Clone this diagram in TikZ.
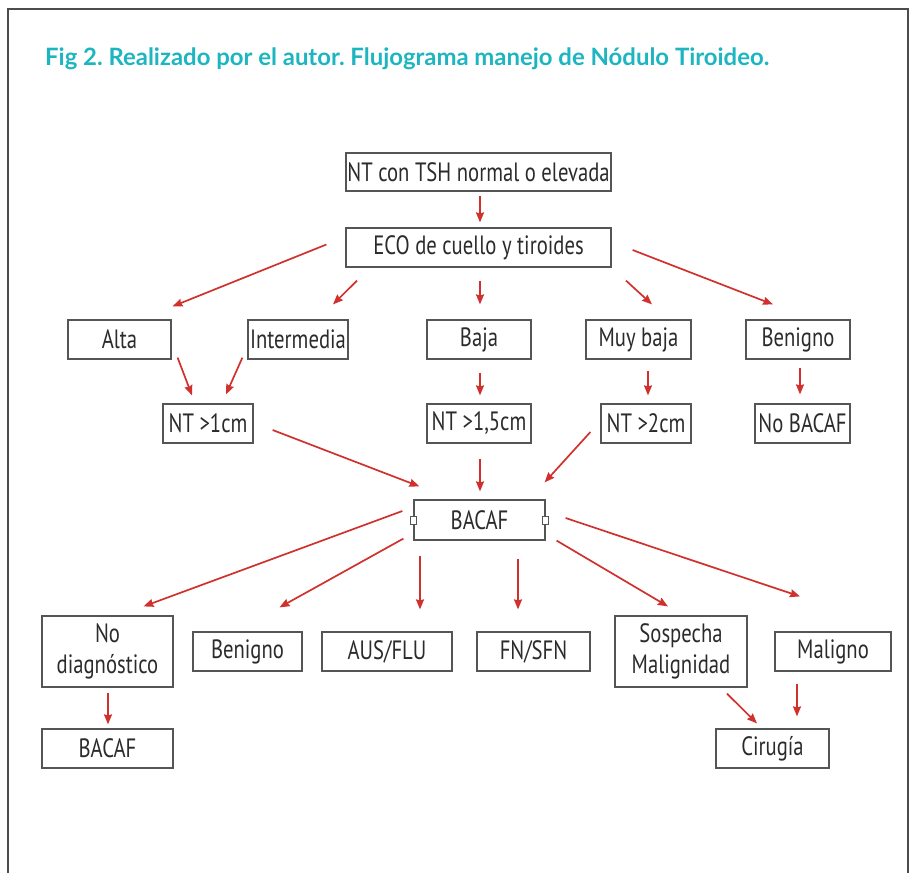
\documentclass[tikz,border=0pt]{standalone}
\usepackage{fontspec}
\setmainfont{Lato}
\newfontfamily\boxfont[FakeStretch=0.78]{PT Sans}
\usetikzlibrary{calc,arrows.meta}
\definecolor{titleteal}{HTML}{1DB5C0}
\definecolor{boxline}{HTML}{555555}
\definecolor{boxtext}{HTML}{2B2B2B}
\definecolor{arrowred}{HTML}{D0312D}
\frenchspacing
\tikzset{
  stepbox/.style={draw=boxline, line width=1.2pt, fill=white, inner sep=0pt,
    minimum height=39pt, align=center, text=boxtext,
    font=\boxfont\fontsize{26.5}{31}\selectfont},
  arr/.style={draw=arrowred, line width=1.7pt,
    -{Stealth[length=10pt,width=8pt,inset=1pt]}},
  port/.style={draw=boxline, line width=1pt, fill=white, inner sep=0pt,
    minimum width=6pt, minimum height=8pt}
}
\begin{document}
\begin{tikzpicture}[x=1pt,y=-1pt]
\useasboundingbox (0,0) rectangle (911,873);
% outer frame, open at the bottom
\draw[line width=1.4pt, color=black!70] (8,873) -- (8,9) -- (908,9) -- (908,873);

% caption
\node[anchor=base west, inner sep=0pt, text=titleteal, font=\fontsize{23.9}{28}\selectfont\bfseries]
  (caption) at (45,65) {Fig 2. Realizado por el autor. Flujograma manejo de Nódulo Tiroideo.};

% boxes
\node[stepbox, minimum width=265pt, minimum height=38pt] (top) at (478.5,172) {NT con TSH normal o elevada};
\node[stepbox, minimum width=265pt] (eco) at (478.5,247.5) {ECO de cuello y tiroides};

\node[stepbox, minimum width=103pt] (alta)  at (119.5,339.5) {Alta};
\node[stepbox, minimum width=100pt] (inter) at (298,339.5)   {Intermedia};
\node[stepbox, minimum width=104pt] (baja)  at (479,339.5)   {Baja};
\node[stepbox, minimum width=105pt] (muy)   at (638.5,339.5) {Muy baja};
\node[stepbox, minimum width=104pt] (benA)  at (798,339.5)   {Benigno};

\node[stepbox, minimum width=90pt]  (nt1)   at (208,423.5)   {NT >1cm};
\node[stepbox, minimum width=104pt] (nt15)  at (479,423.5)   {NT >1,5cm};
\node[stepbox, minimum width=90pt]  (nt2)   at (646,423.5)   {NT >2cm};
\node[stepbox, minimum width=95pt]  (nob)   at (802.5,423.5) {No BACAF};

\node[stepbox, minimum width=131pt, minimum height=40pt] (bacaf) at (479.5,520) {BACAF};
\node[port] (pl) at (bacaf.west) {};
\node[port] (pr) at (bacaf.east) {};

\node[stepbox, minimum width=131pt, minimum height=71pt] (nodiag) at (107.5,651.5) {No\\diagnóstico};
\node[stepbox, minimum width=109pt] (benB) at (247.5,651.5) {Benigno};
\node[stepbox, minimum width=130pt] (aus)  at (387,651.5)   {AUS/FLU};
\node[stepbox, minimum width=113pt] (fn)   at (533.5,651.5) {FN/SFN};
\node[stepbox, minimum width=132pt, minimum height=71pt] (sosp) at (681,651.5) {Sospecha\\Malignidad};
\node[stepbox, minimum width=116pt] (malig) at (833,651.5)  {Maligno};

\node[stepbox, minimum width=131pt] (bacafB) at (107.5,748.5) {BACAF};
\node[stepbox, minimum width=113pt] (cir)    at (772.5,748.5) {Cirugía};

% connectors
\draw[arr] ($(top.south)+(1.5,4)$)   -- ($(eco.north)+(1.5,-5)$);
\draw[arr] ($(eco.west)+(-19,-3)$)   -- ($(alta.north)+(53,-13)$);
\draw[arr] ($(eco.south)+(-121.5,13)$) -- ($(inter.north)+(35,-15)$);
\draw[arr] ($(eco.south)+(1.5,13)$)  -- ($(baja.north)+(1,-15)$);
\draw[arr] ($(eco.south)+(147.5,13)$) -- ($(muy.north)+(13.5,-15)$);
\draw[arr] ($(eco.east)+(21,2.5)$)   -- ($(benA.north)+(-25,-15)$);

\draw[arr] ($(alta.south east)+(6,-2)$)   -- ($(nt1.north)+(-16,-8)$);
\draw[arr] ($(inter.south west)+(-5,-2)$) -- ($(nt1.north)+(18,-9)$);
\draw[arr] ($(baja.south)+(1,13)$)  -- ($(nt15.north)+(1,-8)$);
\draw[arr] ($(muy.south)+(9.5,11)$) -- ($(nt2.north)+(2,-8)$);
\draw[arr] ($(benA.south)+(2,8)$)   -- ($(nob.north)+(-2.5,-9)$);

\draw[arr] ($(nt1.east)+(19,6.5)$)  -- ($(bacaf.north west)+(6,-13)$);
\draw[arr] ($(nt15.south)+(1,15)$)  -- ($(bacaf.north)+(0.5,-8)$);
\draw[arr] ($(nt2.west)+(-10,8.5)$) -- ($(bacaf.north east)+(-1,-17)$);

\draw[arr] ($(bacaf.west)+(-11,-9)$)       -- ($(nodiag.north)+(36,-9)$);
\draw[arr] ($(bacaf.south west)+(-10,-2)$) -- ($(benB.north)+(32,-24)$);
\draw[arr] ($(bacaf.south)+(-59.5,15)$)    -- ($(aus.north)+(33,-22)$);
\draw[arr] ($(bacaf.south)+(38.5,18)$)     -- ($(fn.north)+(-15.5,-22)$);
\draw[arr] ($(bacaf.south east)+(11,0)$)   -- ($(sosp.north)+(-13,-9)$);
\draw[arr] ($(bacaf.east)+(20,-2)$)        -- ($(malig.north)+(-33,-35)$);

\draw[arr] ($(nodiag.south)+(0.5,5)$) -- ($(bacafB.north)+(0.5,-4)$);
\draw[arr] ($(sosp.south)+(46,6)$)    -- ($(cir.north)+(-15.5,-5)$);
\draw[arr] ($(malig.south)+(-36,12)$) -- ($(cir.north)+(24.5,-12)$);
\end{tikzpicture}
\end{document}
